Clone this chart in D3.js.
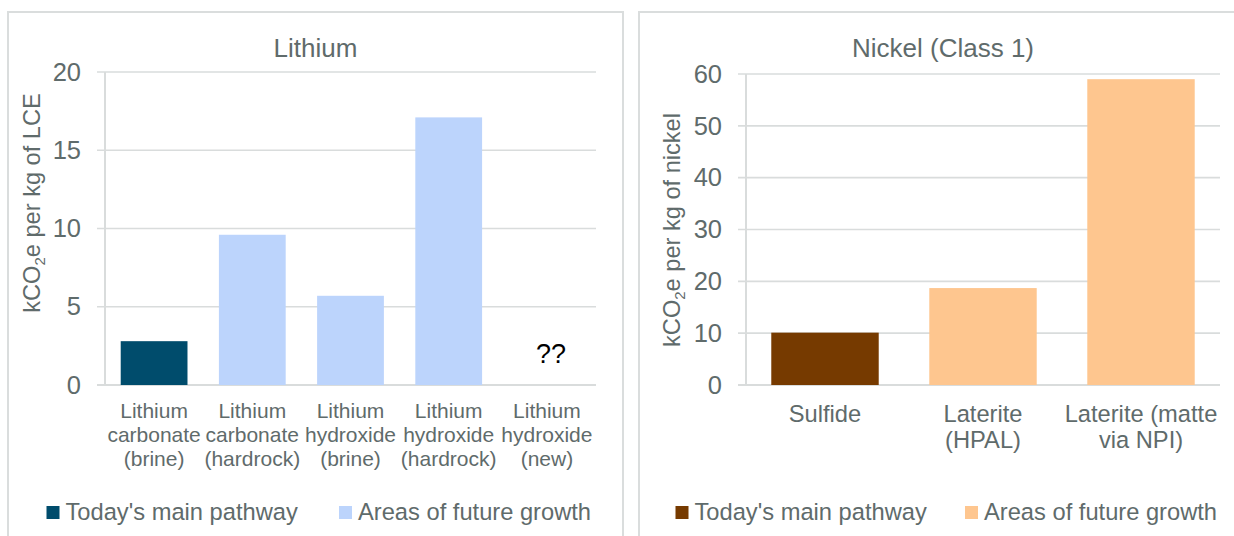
<!DOCTYPE html>
<html><head><meta charset="utf-8">
<script src="https://cdn.jsdelivr.net/npm/d3@7/dist/d3.min.js"></script>
<style>
html,body{margin:0;padding:0;background:#fff;}
svg{display:block;font-family:"Liberation Sans",Arial,sans-serif;}
</style></head>
<body>
<svg id="c" width="1234" height="536"></svg>
<script>
// ---- Data ----
const lithiumCategories = [
  ["Lithium","carbonate","(brine)"],
  ["Lithium","carbonate","(hardrock)"],
  ["Lithium","hydroxide","(brine)"],
  ["Lithium","hydroxide","(hardrock)"],
  ["Lithium","hydroxide","(new)"]
];
const lithiumValues = [2.8, 9.6, 5.7, 17.1, null];
const lithiumGroup = ["main","future","future","future","unknown"];
const lithiumTicks = [0, 5, 10, 15, 20];

const nickelCategories = [
  ["Sulfide"],
  ["Laterite","(HPAL)"],
  ["Laterite (matte","via NPI)"]
];
const nickelValues = [10.1, 18.7, 59];
const nickelGroup = ["main","future","future"];
const nickelTicks = [0, 10, 20, 30, 40, 50, 60];

const legendLabels = ["Today's main pathway", "Areas of future growth"];

// ---- Drawing ----
const svg = d3.select("#c");
const textCol = "#5f6b6b";
const gridCol = "#d9dcdc";

function panel(cfg){
  const g = svg.append("g");
  // border
  g.append("rect").attr("x",cfg.px).attr("y",12).attr("width",cfg.pw).attr("height",560)
    .attr("fill","none").attr("stroke","#dadddd").attr("stroke-width",2);
  // title
  g.append("text").attr("x",cfg.px+cfg.pw/2).attr("y",57).attr("text-anchor","middle")
    .attr("font-size",26).attr("fill",textCol).text(cfg.title);

  const y = d3.scaleLinear().domain([0, cfg.max]).range([385, cfg.yTop]);
  const x = d3.scaleBand().domain(cfg.cats.map((d,i)=>i)).range([cfg.x0, cfg.x1])
    .paddingInner(0.32).paddingOuter(0.16);

  // gridlines
  g.append("g").selectAll("line").data(cfg.ticks).join("line")
    .attr("x1",cfg.x0-8).attr("x2",cfg.x1).attr("y1",d=>y(d)).attr("y2",d=>y(d))
    .attr("stroke",gridCol).attr("stroke-width",d=>d===0?2:1.6);

  // y axis labels
  const ax = g.append("g").attr("transform",`translate(${cfg.x0},0)`)
    .call(d3.axisLeft(y).tickValues(cfg.ticks).tickSize(0).tickPadding(24));
  ax.select(".domain").remove();
  ax.selectAll("text").attr("font-size",25.5).attr("fill",textCol)
    .attr("font-family",'"Liberation Sans",Arial,sans-serif');
  // vertical axis line
  g.append("line").attr("x1",cfg.x0).attr("x2",cfg.x0).attr("y1",y(cfg.max)).attr("y2",386)
    .attr("stroke",gridCol).attr("stroke-width",2);

  // bars
  g.append("g").selectAll("rect").data(cfg.values.map((v,i)=>({v,i})).filter(d=>d.v!=null)).join("rect")
    .attr("x",d=>x(d.i)).attr("width",x.bandwidth())
    .attr("y",d=>y(d.v)).attr("height",d=>y(0)-y(d.v))
    .attr("fill",d=>cfg.colors[cfg.groups[d.i]]);

  // unknown marker
  cfg.groups.forEach((gr,i)=>{
    if(gr==="unknown"){
      g.append("text").attr("x",x(i)+x.bandwidth()/2+4).attr("y",363).attr("text-anchor","middle")
        .attr("font-size",27).attr("fill","#000").text("??");
    }
  });

  // category labels
  cfg.cats.forEach((lines,i)=>{
    const t = g.append("text").attr("x",x(i)+x.bandwidth()/2).attr("y",cfg.catY)
      .attr("text-anchor","middle").attr("font-size",cfg.catFont).attr("fill",textCol);
    lines.forEach((l,j)=>{
      t.append("tspan").attr("x",x(i)+x.bandwidth()/2).attr("dy", j===0?0:cfg.catLH).text(l);
    });
  });

  // y axis title
  const yt = g.append("text").attr("transform",`translate(${cfg.ytX},${cfg.ytY}) rotate(-90)`)
    .attr("text-anchor","middle").attr("font-size",23.6).attr("fill",textCol);
  yt.append("tspan").text("kCO");
  yt.append("tspan").attr("font-size",15).attr("dy",5).text("2");
  yt.append("tspan").attr("dy",-5).text(cfg.yUnit);

  // legend
  const lg = g.append("g");
  const keys = ["main","future"];
  keys.forEach((k,i)=>{
    lg.append("rect").attr("x",cfg.legX[i]).attr("y",506).attr("width",13).attr("height",13)
      .attr("fill",cfg.colors[k]);
    lg.append("text").attr("x",cfg.legX[i]+19).attr("y",520).attr("font-size",23.7)
      .attr("fill",textCol).text(legendLabels[i]);
  });
}

panel({
  px:8, pw:615, title:"Lithium", max:20, yTop:72, ticks:lithiumTicks,
  cats:lithiumCategories, values:lithiumValues, groups:lithiumGroup,
  x0:105, x1:596, colors:{main:"#004c6c", future:"#bcd4fc"},
  catY:418, catFont:21, catLH:24.2,
  ytX:40, ytY:203, yUnit:"e per kg of LCE",
  legX:[46.5, 339]
});
panel({
  px:639, pw:608, title:"Nickel (Class 1)", max:60, yTop:74, ticks:nickelTicks,
  cats:nickelCategories, values:nickelValues, groups:nickelGroup,
  x0:746, x1:1220, colors:{main:"#763a00", future:"#fec68f"},
  catY:421.5, catFont:23.7, catLH:26.6,
  ytX:680, ytY:230, yUnit:"e per kg of nickel",
  legX:[675.5, 965]
});
</script>
</body></html>
